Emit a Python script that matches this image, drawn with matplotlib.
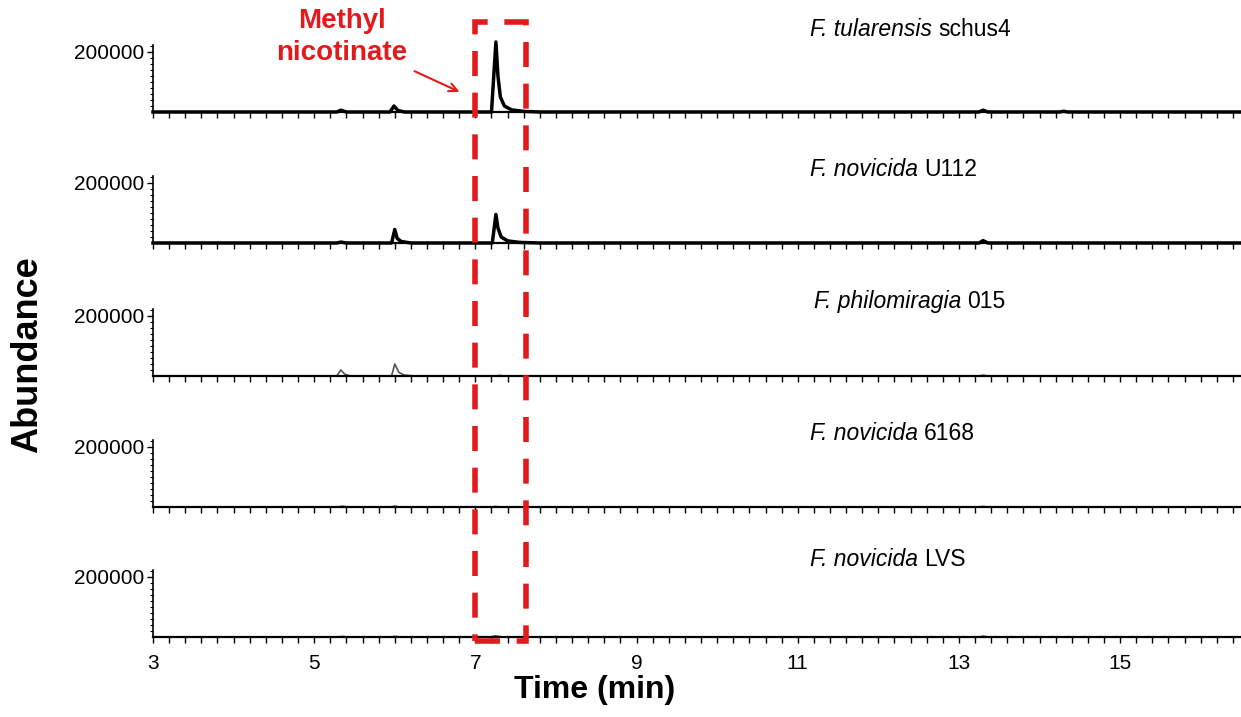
import matplotlib
matplotlib.use("Agg")
import matplotlib.pyplot as plt
import matplotlib.transforms as mtransforms
from matplotlib.patches import Rectangle, FancyArrowPatch
from matplotlib.ticker import FixedLocator, FuncFormatter

FONT = ['Liberation Sans', 'DejaVu Sans']
plt.rcParams['font.family'] = FONT

# strain names: (italic part, plain part)
strains = [("F. tularensis", "schus4"),
           ("F. novicida", "U112"),
           ("F. philomiragia", "015"),
           ("F. novicida", "6168"),
           ("F. novicida", "LVS")]

# chromatogram points (time in min, abundance)
t_schus4 = [3, 5.28, 5.33, 5.4, 5.94, 5.99, 6.04, 6.12, 7.20, 7.255, 7.28, 7.31, 7.36, 7.45, 7.6, 7.8,
            13.25, 13.3, 13.36, 14.25, 14.3, 14.35, 16.5]
a_schus4 = [0, 0, 6000, 0, 0, 20000, 5000, 0, 0, 233000, 120000, 50000, 20000, 7000, 2000, 0,
            0, 6000, 0, 0, 2500, 0, 0]

t_u112 = [3, 5.28, 5.33, 5.4, 5.96, 6.0, 6.03, 6.08, 6.2, 7.21, 7.255, 7.28, 7.32, 7.4, 7.55, 7.8,
          13.25, 13.3, 13.36, 16.5]
a_u112 = [0, 0, 3000, 0, 0, 45000, 15000, 5000, 0, 0, 95000, 50000, 20000, 7000, 2000, 0,
          0, 8000, 0, 0]

t_philo = [3, 5.28, 5.33, 5.38, 5.45, 5.96, 6.0, 6.05, 6.12, 6.25, 7.25, 7.3, 7.35, 13.25, 13.3, 13.36, 16.5]
a_philo = [0, 0, 20000, 6000, 0, 0, 40000, 12000, 3000, 0, 0, 2000, 0, 0, 3000, 0, 0]

t_6168 = [3, 5.3, 5.35, 5.42, 5.95, 6.0, 6.06, 7.2, 7.25, 7.3, 13.25, 13.3, 13.36, 16.5]
a_6168 = [0, 0, 3000, 0, 0, 3000, 0, 0, 2000, 0, 0, 2000, 0, 0]

t_lvs = [3, 5.3, 5.35, 5.42, 5.95, 6.0, 6.06, 7.18, 7.25, 7.33, 13.25, 13.3, 13.36, 16.5]
a_lvs = [0, 0, 2000, 0, 0, 2000, 0, 0, 4000, 0, 0, 3000, 0, 0]

traces = [(t_schus4, a_schus4), (t_u112, a_u112), (t_philo, a_philo), (t_6168, a_6168), (t_lvs, a_lvs)]
trace_colors = ['black', 'black', '#555555', '#555555', '#555555']
trace_widths = [2.5, 2.5, 1.2, 1.2, 1.2]
title_offsets = [82, 74, 74, 74, 77]  # px above baseline
title_x = [11.15, 11.15, 11.2, 11.15, 11.15]

x_labels = [3, 5, 7, 9, 11, 13, 15]

W, H = 1241, 717
fig = plt.figure(figsize=(W / 100, H / 100), dpi=100)

baselines = [112, 243, 376, 507, 637]
left_px = 153
ax_h = 67
axes = []
for i, base in enumerate(baselines):
    ax = fig.add_axes([left_px / W, (H - base) / H, (W - left_px) / W, ax_h / H])
    t, a = traces[i]
    ax.plot(t, a, color=trace_colors[i], lw=trace_widths[i], clip_on=False, solid_joinstyle='round')
    ax.set_xlim(3, 16.5)
    ax.set_ylim(0, 223000)
    ax.spines['top'].set_visible(False)
    ax.spines['right'].set_visible(False)
    ax.spines['bottom'].set_linewidth(1.6)
    ax.spines['left'].set_linewidth(1.2)
    ax.patch.set_visible(False)

    # x ticks: short every 0.2 min, longer ones offset by 0.4
    ax.xaxis.set_major_locator(FixedLocator([3 + 0.2 * k for k in range(68)]))
    ax.xaxis.set_minor_locator(FixedLocator([3.4 + k for k in range(14)]))
    if i == len(baselines) - 1:
        ax.xaxis.set_major_formatter(FuncFormatter(
            lambda v, p: str(int(round(v))) if min(abs(v - L) for L in x_labels) < 1e-6 else ''))
    else:
        ax.xaxis.set_major_formatter(FuncFormatter(lambda v, p: ''))
    ax.tick_params(axis='x', which='major', direction='out', length=4, width=1, labelsize=15, pad=8)
    ax.tick_params(axis='x', which='minor', direction='out', length=8, width=1)

    # y ticks
    ax.yaxis.set_major_locator(FixedLocator([200000]))
    ax.yaxis.set_minor_locator(FixedLocator([20000 * k for k in range(1, 12)]))
    ax.yaxis.set_major_formatter(FuncFormatter(lambda v, p: '%d' % v))
    ax.tick_params(axis='y', which='major', direction='out', length=4, width=1, labelsize=15, pad=2)
    ax.tick_params(axis='y', which='minor', direction='out', length=2, width=0.8)

    # strain name: italic genus/species + plain strain
    y_frac = title_offsets[i] / ax_h
    t1 = ax.text(title_x[i], y_frac, strains[i][0] + " ", transform=mtransforms.blended_transform_factory(
        ax.transData, ax.transAxes), fontsize=16.5, style='italic', va='center', ha='left')
    ax.annotate(strains[i][1], xy=(1, 0.5), xycoords=t1, xytext=(0, 0), textcoords='offset points',
                fontsize=16.5, va='center', ha='left')
    axes.append(ax)

# red dashed box around the methyl nicotinate peak
red = '#e31a1c'
trans = mtransforms.blended_transform_factory(axes[-1].transData, fig.transFigure)
y0 = (H - 641) / H
y1 = (H - 22) / H
box = Rectangle((7.0, y0), 0.63, y1 - y0, transform=trans, fill=False, edgecolor=red,
                lw=4, linestyle=(0, (4.5, 3)), clip_on=False, zorder=10)
fig.add_artist(box)

fig.text(342 / W, (H - 37) / H, "Methyl\nnicotinate", color=red, fontsize=20, fontweight='bold',
         ha='center', va='center', linespacing=1.25)
arrow = FancyArrowPatch((412 / W, (H - 70) / H), (462 / W, (H - 93) / H), transform=fig.transFigure,
                        arrowstyle='->', mutation_scale=15, color=red, lw=1.5)
fig.add_artist(arrow)

fig.text(28 / W, (H - 355) / H, "Abundance", rotation=90, fontsize=26, fontweight='bold',
         ha='center', va='center')
fig.text(595 / W, (H - 690) / H, "Time (min)", fontsize=23, fontweight='bold', ha='center', va='center')

fig.savefig("out.png", dpi=100)
